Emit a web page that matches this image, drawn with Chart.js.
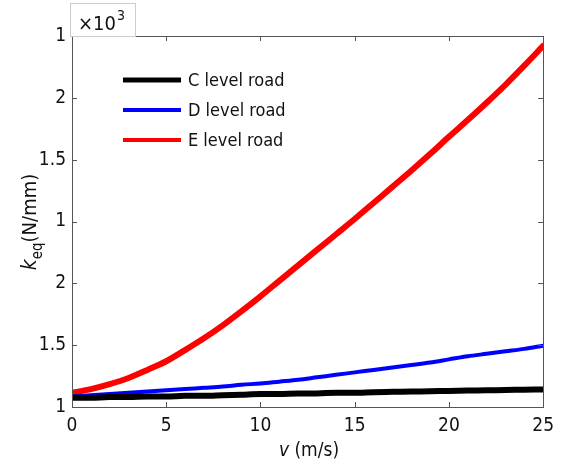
<!DOCTYPE html>
<html>
<head>
<meta charset="utf-8">
<script src="https://cdn.jsdelivr.net/npm/chart.js@4"></script>
<style>
  body { margin: 0; background: #fff; }
  canvas { display: block; }
</style>
</head>
<body>
<canvas id="chart" width="562" height="461"></canvas>
<script>
// data (y in axis slots: 0 = bottom tick, 6 = top tick)
const speeds = [0,1,2,3,4,5,6,7,8,9,10,11,12,13,14,15,16,17,18,19,20,21,22,23,24,25];
const roadC = [0.15,0.15,0.16,0.16,0.17,0.17,0.18,0.18,0.19,0.20,0.21,0.21,0.22,0.22,0.23,0.23,0.24,0.245,0.25,0.255,0.26,0.265,0.27,0.275,0.28,0.285];
const roadD = [0.17,0.19,0.21,0.23,0.25,0.27,0.29,0.31,0.33,0.36,0.38,0.41,0.44,0.48,0.52,0.56,0.60,0.64,0.68,0.72,0.77,0.82,0.86,0.90,0.94,0.99];
const roadE = [0.23,0.29,0.37,0.47,0.60,0.74,0.92,1.11,1.32,1.55,1.79,2.04,2.29,2.54,2.79,3.04,3.30,3.56,3.82,4.09,4.37,4.64,4.92,5.21,5.52,5.84];
const yTickLabels = ['1', '1.5', '2', '1', '1.5', '2', '1']; // as printed, bottom to top
const xTicks = [0, 5, 10, 15, 20, 25];

const FONT = '"Liberation Sans Narrow", "DejaVu Sans Condensed", "Arial Narrow", sans-serif';

// inward ticks, exponent box, axis titles and legend
const decorations = {
    id: 'decorations',
    afterDraw(chart) {
        const ctx = chart.ctx;
        const a = chart.chartArea;
        const xs = chart.scales.x, ys = chart.scales.y;
        ctx.save();
        ctx.strokeStyle = '#555';
        ctx.lineWidth = 1;
        ctx.beginPath();
        xTicks.forEach(v => {
            const px = Math.round(xs.getPixelForValue(v)) + 0.5;
            ctx.moveTo(px, a.bottom); ctx.lineTo(px, a.bottom - 5);
            ctx.moveTo(px, a.top); ctx.lineTo(px, a.top + 5);
        });
        for (let i = 0; i <= 6; i++) {
            const py = Math.round(ys.getPixelForValue(i)) + 0.5;
            ctx.moveTo(a.left, py); ctx.lineTo(a.left + 5, py);
            ctx.moveTo(a.right, py); ctx.lineTo(a.right - 5, py);
        }
        ctx.stroke();
        ctx.strokeRect(Math.round(a.left) + 0.5, Math.round(a.top) + 0.5, Math.round(a.right - a.left), Math.round(a.bottom - a.top));

        // x10^3 box
        ctx.strokeStyle = '#ccc';
        ctx.strokeRect(70.5, 3.5, 65, 33);
        ctx.fillStyle = '#111';
        ctx.textBaseline = 'alphabetic';
        ctx.textAlign = 'left';
        ctx.font = '20px ' + FONT;
        ctx.fillText('\u00d710', 78, 30);
        const w10 = ctx.measureText('\u00d710').width;
        ctx.font = '14px ' + FONT;
        ctx.fillText('3', 78 + w10 + 1, 20);

        // y title: k_eq(N/mm)
        ctx.save();
        ctx.translate(36, 222);
        ctx.rotate(-Math.PI / 2);
        ctx.font = 'italic 21px ' + FONT;
        const wk = ctx.measureText('k').width;
        ctx.font = '15px ' + FONT;
        const we = ctx.measureText('eq').width;
        ctx.font = '20px ' + FONT;
        const wn = ctx.measureText('(N/mm)').width;
        let x0 = -(wk + we + wn) / 2;
        ctx.font = 'italic 21px ' + FONT;
        ctx.fillText('k', x0, 0);
        ctx.font = '15px ' + FONT;
        ctx.fillText('eq', x0 + wk, 6);
        ctx.font = '20px ' + FONT;
        ctx.fillText('(N/mm)', x0 + wk + we, 0);
        ctx.restore();

        // x title: v (m/s)
        ctx.font = 'italic 19px ' + FONT;
        const wv = ctx.measureText('v ').width;
        ctx.font = '19px ' + FONT;
        const wm = ctx.measureText('(m/s)').width;
        let xx = 309 - (wv + wm) / 2;
        ctx.font = 'italic 19px ' + FONT;
        ctx.fillText('v ', xx, 456);
        ctx.font = '19px ' + FONT;
        ctx.fillText('(m/s)', xx + wv, 456);

        // legend
        const rows = [80, 110, 140];
        chart.data.datasets.forEach((ds, i) => {
            ctx.strokeStyle = ds.borderColor;
            ctx.lineWidth = i === 0 ? 5 : 4;
            ctx.beginPath();
            ctx.moveTo(123, rows[i]); ctx.lineTo(181, rows[i]);
            ctx.stroke();
            ctx.fillStyle = '#111';
            ctx.font = '18px ' + FONT;
            ctx.textBaseline = 'middle';
            ctx.fillText(ds.label, 188, rows[i] + 1);
        });
        ctx.restore();
    }
};

new Chart(document.getElementById('chart').getContext('2d'), {
    type: 'line',
    data: {
        datasets: [
            { label: 'C level road', data: speeds.map((v, i) => ({ x: v, y: roadC[i] })), borderColor: '#000000', borderWidth: 6 },
            { label: 'D level road', data: speeds.map((v, i) => ({ x: v, y: roadD[i] })), borderColor: '#0000ff', borderWidth: 4 },
            { label: 'E level road', data: speeds.map((v, i) => ({ x: v, y: roadE[i] })), borderColor: '#ff0000', borderWidth: 6 }
        ]
    },
    options: {
        responsive: false,
        animation: false,
        devicePixelRatio: 1,
        layout: { padding: { left: 0, right: 16, top: 36, bottom: 0 } },
        elements: { point: { radius: 0 }, line: { cubicInterpolationMode: 'monotone', borderCapStyle: 'round' } },
        plugins: { legend: { display: false }, tooltip: { enabled: false } },
        scales: {
            x: {
                type: 'linear', min: 0, max: 25,
                afterFit: s => { s.height = 54; },
                afterBuildTicks: s => { s.ticks = xTicks.map(v => ({ value: v })); },
                grid: { display: false, drawTicks: false },
                border: { display: false },
                ticks: { color: '#111', padding: 8, font: { family: FONT, size: 19 }, maxRotation: 0 }
            },
            y: {
                type: 'linear', min: 0, max: 6,
                afterFit: s => { s.width = 72; },
                grid: { display: false, drawTicks: false },
                border: { display: false },
                ticks: { stepSize: 1, color: '#111', padding: 6, font: { family: FONT, size: 19 },
                    callback: v => yTickLabels[v] }
            }
        }
    },
    plugins: [decorations]
});
</script>
</body>
</html>
